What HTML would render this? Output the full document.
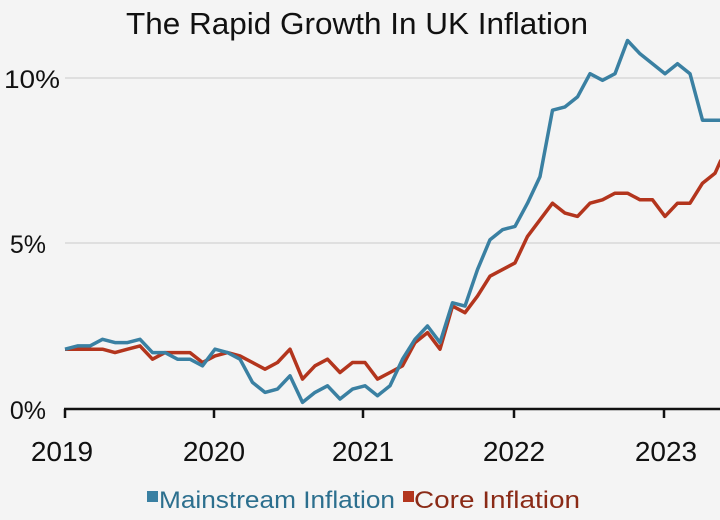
<!DOCTYPE html>
<html><head><meta charset="utf-8"><style>
html,body{margin:0;padding:0;background:#f4f4f4;}
svg{display:block}
text{font-family:"Liberation Sans",sans-serif;}
</style></head><body>
<svg id="s" width="720" height="520" viewBox="0 0 720 520">
<rect width="720" height="520" fill="#f4f4f4"/>
<text x="357" y="34" font-size="31" text-anchor="middle" fill="#111" textLength="462" lengthAdjust="spacingAndGlyphs">The Rapid Growth In UK Inflation</text>
<line x1="65" y1="78" x2="720" y2="78" stroke="#d8d8d8" stroke-width="1.5"/>
<line x1="65" y1="243" x2="720" y2="243" stroke="#d8d8d8" stroke-width="1.5"/>
<text x="60" y="88" font-size="25" text-anchor="end" fill="#111" textLength="56" lengthAdjust="spacingAndGlyphs">10%</text>
<text x="46" y="253" font-size="25" text-anchor="end" fill="#111">5%</text>
<text x="46" y="419" font-size="25" text-anchor="end" fill="#111">0%</text>
<g stroke="#111" stroke-width="2.5">
<line x1="64" y1="409" x2="720" y2="409"/>
<line x1="65" y1="409" x2="65" y2="418"/>
<line x1="214" y1="409" x2="214" y2="418"/>
<line x1="363" y1="409" x2="363" y2="418"/>
<line x1="514" y1="409" x2="514" y2="418"/>
<line x1="664" y1="409" x2="664" y2="418"/>
</g>
<g font-size="28" text-anchor="middle" fill="#111">
<text x="62" y="461">2019</text><text x="214" y="461">2020</text><text x="363" y="461">2021</text><text x="514" y="461">2022</text><text x="666" y="461">2023</text>
</g>
<polyline id="core" fill="none" stroke="#b3351d" stroke-width="3.5" stroke-linejoin="round"/>
<polyline id="main" fill="none" stroke="#3a80a2" stroke-width="3.5" stroke-linejoin="round"/>
<rect x="147" y="491" width="11" height="11" fill="#3a80a2"/>
<text x="159" y="508" font-size="24" fill="#2c6f8e" textLength="236" lengthAdjust="spacingAndGlyphs">Mainstream Inflation</text>
<rect x="403" y="491" width="11" height="11" fill="#b3351d"/>
<text x="414" y="508" font-size="24" fill="#8a2a16" textLength="166" lengthAdjust="spacingAndGlyphs">Core Inflation</text>
</svg>
<script>
var m=[1.8,1.9,1.9,2.1,2.0,2.0,2.1,1.7,1.7,1.5,1.5,1.3,1.8,1.7,1.5,0.8,0.5,0.6,1.0,0.2,0.5,0.7,0.3,0.6,0.7,0.4,0.7,1.5,2.1,2.5,2.0,3.2,3.1,4.2,5.1,5.4,5.5,6.2,7.0,9.0,9.1,9.4,10.1,9.9,10.1,11.1,10.7,10.4,10.1,10.4,10.1,8.7,8.7];
var c=[1.8,1.8,1.8,1.8,1.7,1.8,1.9,1.5,1.7,1.7,1.7,1.4,1.6,1.7,1.6,1.4,1.2,1.4,1.8,0.9,1.3,1.5,1.1,1.4,1.4,0.9,1.1,1.3,2.0,2.3,1.8,3.1,2.9,3.4,4.0,4.2,4.4,5.2,5.7,6.2,5.9,5.8,6.2,6.3,6.5,6.5,6.3,6.3,5.8,6.2,6.2,6.8,7.1];
function pts(a,end){var s=a.map(function(v,i){return (65+i*12.5).toFixed(1)+","+(409-v*33.2).toFixed(1)});s.push("721,"+(409-end*33.2).toFixed(1));return s.join(" ");}
document.getElementById("main").setAttribute("points",pts(m,8.7));
document.getElementById("core").setAttribute("points",pts(c,7.5));
</script>
</body></html>
